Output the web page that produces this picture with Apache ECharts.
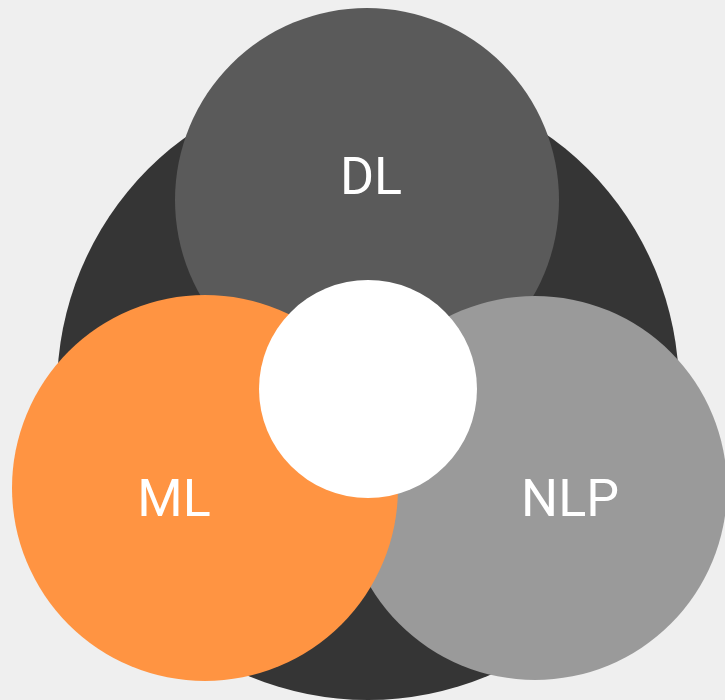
<!DOCTYPE html>
<html>
<head>
<meta charset="utf-8">
<script src="https://cdn.jsdelivr.net/npm/echarts@6/dist/echarts.min.js"></script>
<style>
  html, body { margin: 0; padding: 0; background: #efefef; }
  #chart { width: 725px; height: 700px; }
</style>
</head>
<body>
<div id="chart"></div>
<script>
// circles: [cx, cy, radius] in chart units (1 unit = 1px)
var circleNames = ['AI', 'DL', 'NLP', 'ML', 'Core']
var circleValues = [
  [368, 389, 311],
  [367, 200, 192],
  [535, 488, 192],
  [205, 488, 193],
  [368, 389, 109]
]
var circleColors = ['#353535', '#5a5a5a', '#9a9a9a', '#ff9442', '#ffffff']

// text labels
var labelNames = ['DL', 'ML', 'NLP']
var labelValues = [
  [371, 181],
  [174, 503],
  [570, 503]
]

var chart = echarts.init(document.getElementById('chart'))

var circleData = circleValues.map(function(v, i) {
  return {
    name: circleNames[i],
    value: v,
    itemStyle: { color: circleColors[i] }
  }
})

var labelData = labelValues.map(function(v, i) {
  return { name: labelNames[i], value: v }
})

chart.setOption({
  backgroundColor: '#efefef',
  animation: false,
  grid: { left: 0, right: 0, top: 0, bottom: 0 },
  xAxis: { type: 'value', min: 0, max: 725, show: false },
  yAxis: { type: 'value', min: 0, max: 700, inverse: true, show: false },
  series: [
    {
      type: 'scatter',
      data: circleData,
      symbol: 'circle',
      symbolSize: function(d) { return d[2] * 2 },
      clip: false,
      silent: true,
      itemStyle: { opacity: 1 }
    },
    {
      type: 'scatter',
      data: labelData,
      symbolSize: 0,
      silent: true,
      z: 5,
      itemStyle: { opacity: 1 },
      label: {
        show: true,
        position: 'inside',
        formatter: '{b}',
        color: '#ffffff',
        opacity: 1,
        fontSize: 52,
        fontFamily: 'Roboto'
      }
    }
  ]
})
</script>
</body>
</html>
